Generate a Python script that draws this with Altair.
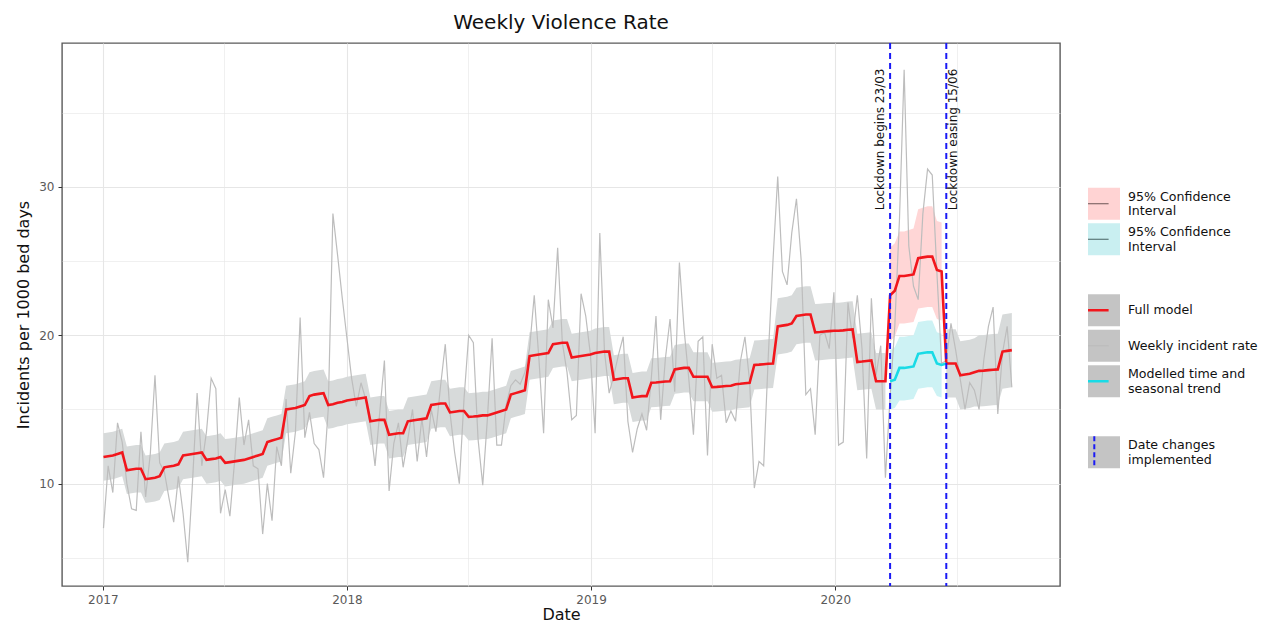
import altair as alt
import pandas as pd

# ------------------------------------------------------------------ texts
title_text = "Weekly Violence Rate"
x_title = "Date"
y_title = "Incidents per 1000 bed days"
first_week = "2017-01-02"
lockdown_dates = ["2020-03-23", "2020-06-15"]
lockdown_labels = ["Lockdown begins 23/03", "Lockdown easing 15/06"]

# ------------------------------------------------------------------ data
# weekly incident rate, one value per week from 2017-01-02
weekly_rate = [
    7.0, 11.2, 9.4, 14.1, 12.8, 10.0, 8.3, 8.2, 13.5, 9.1,
    12.0, 17.3, 11.4, 10.8, 9.0, 7.4, 10.5, 8.0, 4.7, 10.0,
    16.1, 11.2, 13.5, 17.1, 16.4, 8.0, 9.6, 7.8, 11.5, 15.8,
    12.6, 14.3, 11.2,
    11.0, 6.6, 10.0, 7.5, 12.5, 11.2, 15.7,
    10.7, 13.5, 21.2, 13.1, 14.8, 12.7, 12.3, 10.4, 15.0, 28.2,
    25.4, 22.5, 19.8, 17.1, 15.2, 16.8, 15.7, 13.9, 11.2, 14.8,
    18.3, 9.5, 12.7, 14.1, 11.1, 13.0, 15.0, 11.5,
    14.4, 11.8,
    15.0, 13.5, 16.6, 19.4, 14.8, 12.1, 10.0, 15.7, 20.0, 19.5,
    13.0, 9.9, 14.4, 19.8, 12.6, 12.6, 15.3, 16.6, 17.0, 16.7,
    17.5, 19.1, 22.7, 18.4, 13.4, 22.4, 20.5, 25.9, 19.5, 17.5,
    14.3, 14.6,
    22.8, 21.3, 18.7, 13.4, 26.9, 18.9, 16.1, 17.3,
    18.7, 19.9, 14.2, 12.1, 13.7, 14.7, 13.6, 17.1, 21.3, 14.3,
    18.4, 21.1, 16.2, 24.9, 20.4, 17.1, 13.3, 19.6, 19.9, 11.9,
    19.4, 17.1, 17.3, 14.1, 14.9, 14.2,
    18.2, 19.9, 16.9, 9.7,
    11.5, 11.2, 18.7, 25.1, 30.7, 24.3, 23.4, 26.9, 29.2, 25.1,
    16.0, 16.4, 13.3, 20.0, 20.2, 19.1, 22.9, 12.6, 12.8, 22.2,
    19.8, 22.7, 19.1, 11.7, 22.5, 17.3, 19.3, 10.4,
    15.9, 20.6,
    27.8, 37.9, 26.0, 23.3, 22.4, 28.2, 31.2, 30.8, 24.2, 18.1,
    18.3, 20.8, 19.0, 17.0, 15.0, 16.8, 16.3, 15.0, 18.3, 20.6,
    21.9, 14.7, 18.8, 20.6, 16.5,
]

# full model, one value per week
full_model = [
    # 2017
    11.8, 11.85, 11.9, 12.0, 12.1,
    10.9, 10.95, 11.0, 11.0,
    10.3, 10.35, 10.4, 10.5,
    11.1, 11.15, 11.2, 11.3,
    11.9, 11.95, 12.0, 12.05, 12.1,
    11.6, 11.65, 11.7, 11.8,
    11.4, 11.45, 11.5, 11.55, 11.6,
    11.7, 11.8, 11.9, 12.0,
    12.8, 12.9, 13.0, 13.1,
    15.0, 15.05, 15.1, 15.2, 15.3,
    15.9, 16.0, 16.05, 16.1,
    15.3, 15.35, 15.45, 15.5,
    # 2018
    15.6, 15.65, 15.7, 15.75, 15.8,
    14.2, 14.25, 14.3, 14.3,
    13.3, 13.35, 13.4, 13.4,
    14.2, 14.25, 14.3, 14.35, 14.4,
    15.3, 15.35, 15.4, 15.4,
    14.8, 14.85, 14.9, 14.9,
    14.5, 14.52, 14.55, 14.6, 14.6,
    14.7, 14.8, 14.9, 15.0,
    16.0, 16.1, 16.2, 16.3,
    18.6, 18.65, 18.7, 18.75, 18.8,
    19.4, 19.45, 19.5, 19.5,
    18.5, 18.55, 18.6, 18.65, 18.7,
    # 2019
    18.8, 18.85, 18.9, 18.9,
    17.0, 17.05, 17.1, 17.1,
    15.8, 15.85, 15.9, 15.9,
    16.8, 16.82, 16.85, 16.88, 16.9,
    17.7, 17.75, 17.8, 17.8,
    17.2, 17.2, 17.2, 17.2,
    16.5, 16.52, 16.55, 16.58, 16.6,
    16.7, 16.73, 16.77, 16.8,
    18.0, 18.02, 18.05, 18.08, 18.1,
    20.6, 20.65, 20.7, 20.8,
    21.3, 21.35, 21.4, 21.4,
    20.2, 20.22, 20.25, 20.28, 20.3,
    # 2020
    20.3, 20.33, 20.37, 20.4,
    18.2, 18.23, 18.27, 18.3,
    16.9, 16.9, 16.9, 22.7, 23.0,
    24.0, 24.0, 24.05, 24.1,
    25.2, 25.25, 25.3, 25.3,
    24.4, 24.3, 18.1, 18.1, 18.1,
    17.3, 17.35, 17.4, 17.5,
    17.6, 17.62, 17.65, 17.68, 17.7,
    18.9, 18.95, 19.0,
]

# modelled time and seasonal trend during lockdown (weeks 2020-03-23 .. 2020-06-15)
trend_values = [16.9, 17.0, 17.8, 17.8, 17.85, 17.9, 18.75, 18.8, 18.85, 18.85, 18.1, 18.0, 18.1]
# 95% intervals during lockdown (weeks 2020-03-23 .. 2020-06-08)
full_ci_lower = [19.6, 19.9, 20.8, 20.8, 20.85, 20.9, 21.8, 21.85, 21.9, 21.9, 21.1, 21.0]
full_ci_upper = [25.9, 26.2, 27.0, 27.0, 27.1, 27.2, 28.5, 28.6, 28.7, 28.7, 27.7, 27.6]
trend_ci_lower = [15.0, 15.1, 15.6, 15.6, 15.65, 15.7, 16.4, 16.45, 16.5, 16.5, 15.9, 15.8]
trend_ci_upper = [19.0, 19.2, 19.9, 19.9, 19.95, 20.0, 20.9, 20.95, 21.0, 21.0, 20.2, 20.1]

# half width of the grey model band, one value per month Jan 2017 .. Sep 2020
band_halfwidth_by_month = [
    1.6, 1.6, 1.6, 1.6, 1.6, 1.6, 1.6, 1.6, 1.6, 1.6, 1.6, 1.6,
    1.6, 1.6, 1.6, 1.6, 1.6, 1.6, 1.6, 1.6, 1.6, 1.6, 1.6, 1.6,
    1.65, 1.65, 1.65, 1.65, 1.65, 1.65, 1.65, 1.65, 1.65, 1.9, 1.9, 1.9,
    1.9, 1.9, 1.9, 1.9, 1.9, 2.3, 2.3, 2.4, 2.5,
]

# legend entries ("|" marks a line break)
key_codes = ["ci_full", "ci_trend", "gap1", "full", "weekly", "trend", "gap2", "date"]
key_labels = ["95% Confidence|Interval", "95% Confidence|Interval", "", "Full model",
              "Weekly incident rate", "Modelled time and|seasonal trend", "", "Date changes|implemented"]
line_series = ["ci_full_line", "ci_trend_line", "gap1_line", "Full model", "Weekly incident rate",
               "Modelled time and seasonal trend", "gap2_line", "Date changes implemented"]

# ------------------------------------------------------------------ styles
FONT = "DejaVu Sans"
RED = "#f2161c"
GREY_LINE = "#bdbdbd"
CYAN = "#19dbe6"
BLUE = "#1a1af5"
GREY_BAND = "#d7dada"
PINK_BAND = "#ffd6d6"
CYAN_BAND = "#cdf2f4"
KEY_GREY = "#c4c4c4"
key_fill = ["#ffd3d3", "#c9eff1", "transparent", KEY_GREY, KEY_GREY, KEY_GREY, "transparent", KEY_GREY]
line_colors = ["#6b5555", "#466262", "transparent", RED, GREY_LINE, CYAN, "transparent", BLUE]
LEGEND_X, LEGEND_Y = 1026, 144

# ------------------------------------------------------------------ tables
n = len(weekly_rate)
assert n == 195 and len(full_model) == n
weeks = pd.date_range(first_week, periods=n, freq="7D")
main = pd.DataFrame({"date": weeks, "rate": weekly_rate, "model": full_model})
month_idx = (main["date"].dt.year - 2017) * 12 + main["date"].dt.month - 1
hw = [band_halfwidth_by_month[i] for i in month_idx]
main["band_lo"] = main["model"] - hw
main["band_hi"] = main["model"] + hw

i_begin = list(weeks).index(pd.Timestamp(lockdown_dates[0]))
i_end = list(weeks).index(pd.Timestamp(lockdown_dates[1]))
band_df = pd.concat([main.iloc[:i_begin].assign(phase="pre"), main.iloc[i_end:].assign(phase="post")])

ci_df = pd.DataFrame({
    "date": weeks[i_begin:i_end],
    "full_lo": full_ci_lower, "full_hi": full_ci_upper,
    "trend_lo": trend_ci_lower, "trend_hi": trend_ci_upper,
})
weekly_df = pd.DataFrame({"date": weeks, "value": weekly_rate, "series": "Weekly incident rate"})
model_df = pd.DataFrame({"date": weeks, "value": full_model, "series": "Full model"})
trend_df = pd.DataFrame({"date": weeks[i_begin:i_end + 1], "value": trend_values,
                         "series": "Modelled time and seasonal trend"})
vline_df = pd.DataFrame({"date": pd.to_datetime(lockdown_dates), "label": lockdown_labels,
                         "series": "Date changes implemented"})
key_df = pd.DataFrame({"key": key_codes})

# ------------------------------------------------------------------ scales / axes
x_scale = alt.Scale(domain=[alt.DateTime(year=2016, month=11, date=1),
                            alt.DateTime(year=2020, month=12, date=2)])
y_scale = alt.Scale(domain=[3.1, 39.7], nice=False, zero=False)

x_vals = []
for yr in [2017, 2018, 2019, 2020]:
    x_vals += [alt.DateTime(year=yr, month=1, date=1), alt.DateTime(year=yr, month=7, date=1)]

x_axis = alt.Axis(
    values=x_vals, format="%Y",
    labelExpr="month(datum.value) == 0 ? datum.label : ''",
    tickColor={"condition": {"test": "month(datum.value) == 0", "value": "#333333"}, "value": "transparent"},
    gridWidth={"condition": {"test": "month(datum.value) == 0", "value": 1.1}, "value": 0.6},
    labelPadding=4, titlePadding=1,
)
y_axis = alt.Axis(
    values=[5, 10, 15, 20, 25, 30, 35],
    labelExpr="datum.value % 10 === 0 ? datum.label : ''",
    tickColor={"condition": {"test": "datum.value % 10 === 0", "value": "#333333"}, "value": "transparent"},
    gridWidth={"condition": {"test": "datum.value % 10 === 0", "value": 1.1}, "value": 0.6},
    labelPadding=4, titlePadding=7,
)


def X(field="date:T"):
    return alt.X(field, scale=x_scale, axis=x_axis, title=x_title)


def Y(field):
    return alt.Y(field, scale=y_scale, axis=y_axis, title=y_title)


def js_list(vals):
    return "[" + ",".join("'" + v + "'" for v in vals) + "]"


# shared layout of the two stacked legends (keys underneath, lines on top), so that rows line up
common_legend = dict(
    orient="none", legendX=LEGEND_X, legendY=LEGEND_Y, title=None, padding=0,
    clipHeight=33.5, rowPadding=1.5, symbolSize=1024,
    labelFont=FONT, labelFontSize=12.6, labelOffset=8, labelLimit=240,
)
two_line = [d for d, lab in zip(key_codes, key_labels) if "|" in lab]

key_legend = alt.Legend(
    **common_legend,
    labelExpr="split(" + js_list(key_labels) + "[indexof(" + js_list(key_codes) + ", datum.value)], '|')",
    labelBaseline={"expr": "indexof(" + js_list(two_line) + ", datum.value) >= 0 ? 'bottom' : 'middle'"},
    labelColor="#111111", symbolStrokeWidth=0, symbolOpacity=1, zindex=0,
)

is_date = "datum.value === 'Date changes implemented'"
line_legend = alt.Legend(
    **common_legend,
    labelExpr="'" + "\u00a0" * 12 + "'", labelColor="#111111", zindex=1,
    symbolType={"expr": is_date + " ? 'M0,-1V1' : 'stroke'"},
    symbolDash={"expr": is_date + " ? [5, 3] : []"},
    symbolStrokeWidth={"expr": "datum.value === 'Weekly incident rate' ? 1.6 : "
                               "(datum.value === 'Full model' || datum.value === "
                               "'Modelled time and seasonal trend') ? 2.6 : " + is_date + " ? 2 : 1.2"},
    symbolFillColor="transparent", symbolOpacity=1,
)

stroke_enc = alt.Stroke("series:N", scale=alt.Scale(domain=line_series, range=line_colors), legend=line_legend)

# ------------------------------------------------------------------ layers
grey_band = alt.Chart(band_df).mark_area(color=GREY_BAND, opacity=1).encode(
    x=X(), y=Y("band_lo:Q"), y2="band_hi:Q", detail="phase:N")
pink_band = alt.Chart(ci_df).mark_area(color=PINK_BAND, opacity=1).encode(
    x=X(), y=Y("full_lo:Q"), y2="full_hi:Q")
cyan_band = alt.Chart(ci_df).mark_area(color=CYAN_BAND, opacity=1).encode(
    x=X(), y=Y("trend_lo:Q"), y2="trend_hi:Q")
weekly_line = alt.Chart(weekly_df).mark_line(strokeWidth=1.2).encode(
    x=X(), y=Y("value:Q"), stroke=stroke_enc)
model_line = alt.Chart(model_df).mark_line(strokeWidth=2.6).encode(
    x=X(), y=Y("value:Q"), stroke=stroke_enc)
trend_line = alt.Chart(trend_df).mark_line(strokeWidth=2.6).encode(
    x=X(), y=Y("value:Q"), stroke=stroke_enc)
vlines = alt.Chart(vline_df).mark_rule(strokeDash=[6, 4], strokeWidth=2).encode(
    x=X(), stroke=stroke_enc)
text_begin = alt.Chart(vline_df.iloc[[0]]).mark_text(
    angle=270, baseline="bottom", align="center", dy=-3, font=FONT, fontSize=12, color="#111111"
).encode(x=X(), y=alt.YDatum(33.2, scale=y_scale, axis=y_axis, title=y_title), text="label:N")
text_ease = alt.Chart(vline_df.iloc[[1]]).mark_text(
    angle=270, baseline="top", align="center", dy=2, font=FONT, fontSize=12, color="#111111"
).encode(x=X(), y=alt.YDatum(33.2, scale=y_scale, axis=y_axis, title=y_title), text="label:N")
keys = alt.Chart(key_df).mark_point(filled=True, opacity=1).encode(
    shape=alt.Shape("key:N", scale=alt.Scale(domain=key_codes, range=["square"] * len(key_codes)),
                    legend=key_legend),
    fill=alt.Fill("key:N", scale=alt.Scale(domain=key_codes, range=key_fill), legend=key_legend),
).transform_filter("false")

chart = alt.layer(
    grey_band, pink_band, cyan_band, weekly_line, model_line, trend_line, vlines,
    text_begin, text_ease, keys,
).properties(
    width=998, height=543,
    title=alt.TitleParams(title_text, anchor="middle", offset=9),
    autosize=alt.AutoSizeParams(type="none"),
    padding={"left": 54, "top": 35, "right": 200, "bottom": 39},
).configure_view(
    stroke="#5a5a5a", strokeWidth=1.4,
).configure_axis(
    domain=False, grid=True, gridColor="#e6e6e6", tickSize=4,
    labelFont=FONT, labelFontSize=12, labelColor="#5a5a5a",
    titleFont=FONT, titleFontSize=16, titleColor="#111111", titleFontWeight="normal",
).configure_title(
    font=FONT, fontSize=20, fontWeight="normal", color="#111111",
)

chart.save("out.html", embed_options={"renderer": "svg", "actions": False})
